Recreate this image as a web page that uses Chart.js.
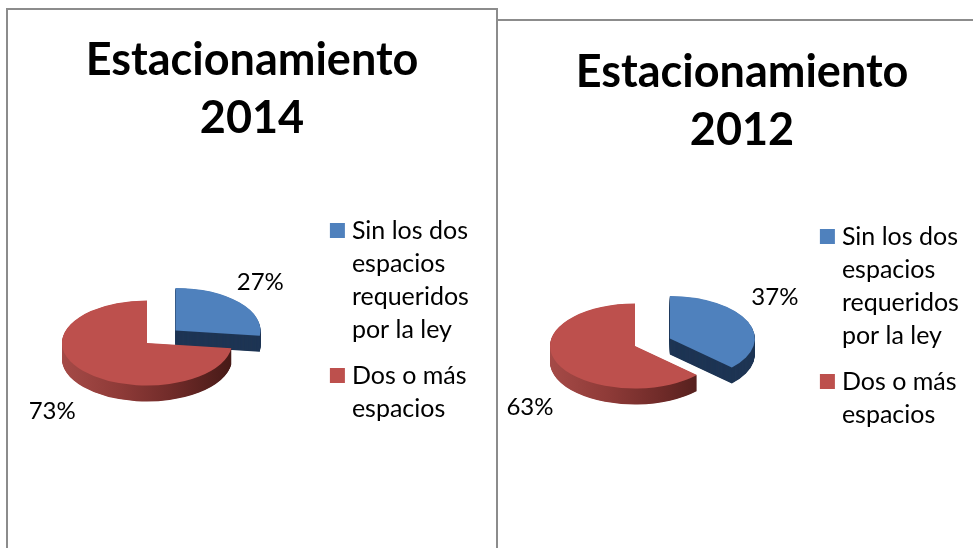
<!DOCTYPE html>
<html><head><meta charset="utf-8">
<script src="https://cdn.jsdelivr.net/npm/chart.js@4"></script>
<style>
html,body{margin:0;padding:0;background:#fff;overflow:hidden;width:973px;height:548px}
.panel{position:absolute;box-sizing:border-box;background:#fff;border:0 solid #8c8c8c}
#p1{left:6px;top:8px;width:492px;height:560px;border-width:2px}
#p2{left:498px;top:19px;width:500px;height:560px;border-top-width:2px}
canvas{position:absolute;left:0;top:0}
</style></head><body>
<div class="panel" id="p1"><canvas id="c1" width="488" height="538"></canvas></div>
<div class="panel" id="p2"><canvas id="c2" width="488" height="527"></canvas></div>
<script>
const categories = ['Sin los dos espacios requeridos por la ley', 'Dos o más espacios'];
const legendLines = [['Sin los dos', 'espacios', 'requeridos', 'por la ley'], ['Dos o más', 'espacios']];
const values2014 = [27, 73];
const values2012 = [37, 63];
const title2014 = ['Estacionamiento', '2014'];
const title2012 = ['Estacionamiento', '2012'];
const topColors = ['#4f81bd', '#bd504d'];
const FONT = 'Lato, "Open Sans", sans-serif';

const pie3d = {
  id: 'pie3d',
  beforeDatasetDraw(chart, args, o) {
    const ctx = chart.ctx, meta = args.meta, R = o.radius;
    const els = meta.data;
    const el0 = els[0];
    ctx.save();
    ctx.translate(o.cx, o.cy);
    ctx.scale(1, o.squash);
    ctx.translate(-el0.x, -el0.y);
    els.forEach((el, i) => {
      const mid = (el.startAngle + el.endAngle) / 2;
      const off = o.explode[i];
      const dx = Math.cos(mid) * off, dy = Math.sin(mid) * off;
      const base = el.options;
      let side;
      if (i === 0) side = o.sideBlue;
      else {
        side = ctx.createLinearGradient(el.x - R, 0, el.x + R, 0);
        o.sideRed.forEach((c, k) => side.addColorStop(k / (o.sideRed.length - 1), c));
      }
      for (let d = o.depth; d > 0; d -= 0.5) {
        ctx.save();
        ctx.translate(dx, dy + d / o.squash);
        el.options = Object.assign({}, base, {backgroundColor: side, borderColor: side});
        el.draw(ctx);
        ctx.restore();
      }
      ctx.save();
      ctx.translate(dx, dy);
      el.options = base;
      el.draw(ctx);
      ctx.restore();
    });
    ctx.restore();
    // percentage labels
    ctx.save();
    ctx.fillStyle = '#000';
    ctx.font = o.labelFont;
    ctx.textAlign = 'center';
    ctx.textBaseline = 'middle';
    els.forEach((el, i) => {
      const mid = (el.startAngle + el.endAngle) / 2;
      const r = R + o.explode[i];
      const x = o.cx + Math.cos(mid) * r + o.labelShift[i][0];
      const y = o.cy + Math.sin(mid) * r * o.squash + o.labelShift[i][1];
      ctx.fillText(chart.data.datasets[0].data[i] + '%', x, y);
    });
    ctx.restore();
    return false;
  }
};

function build(id, values, titleLines, opt) {
  return new Chart(document.getElementById(id), {
    type: 'pie',
    plugins: [pie3d],
    data: {
      labels: categories,
      datasets: [{data: values, backgroundColor: topColors, borderWidth: 0}]
    },
    options: {
      responsive: false,
      animation: false,
      radius: 85,
      layout: {padding: {left: 18, right: 18, bottom: 20}},
      plugins: {
        tooltip: {enabled: false},
        title: {
          display: true,
          text: titleLines,
          color: '#000',
          font: {family: FONT, size: 45, weight: 'bold', lineHeight: 1.29},
          padding: {top: opt.titleTop, bottom: opt.titleBottom}
        },
        legend: {
          position: 'right',
          align: 'start',
          fullSize: false,
          labels: {
            color: '#000',
            font: {family: FONT, size: 25, lineHeight: 1.32},
            usePointStyle: true,
            boxWidth: 4,
            boxHeight: 15,
            padding: 13,
            generateLabels: () => legendLines.map((t, i) => ({
              text: t, fillStyle: topColors[i], strokeStyle: topColors[i],
              lineWidth: 0, pointStyle: 'rect', hidden: false, index: i
            }))
          }
        },
        pie3d: {
          cx: opt.cx, cy: opt.cy, radius: 85, squash: 0.5, depth: 16,
          explode: [38, 0],
          sideBlue: '#1e3554',
          sideRed: ['#a54a47', '#8f3b38', '#6e2a28', '#461a17'],
          labelFont: '24px ' + FONT,
          labelShift: opt.labelShift
        }
      }
    }
  });
}

build('c1', values2014, title2014, {
  cx: 139, cy: 333, titleTop: 21, titleBottom: 58,
  labelShift: [[21, -20], [-31, 40]]
});
build('c2', values2012, title2012, {
  cx: 137, cy: 325, titleTop: 22, titleBottom: 52,
  labelShift: [[27, -24], [-27, 44]]
});
</script>
</body></html>
